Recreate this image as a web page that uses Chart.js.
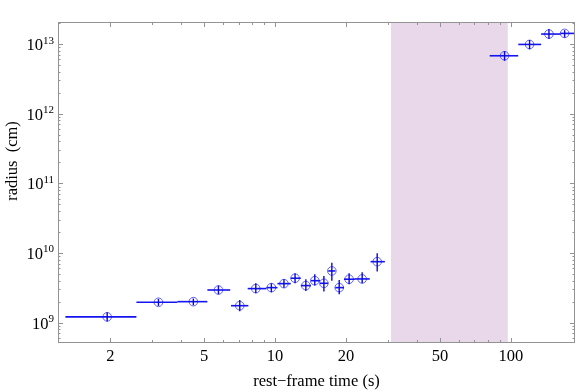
<!DOCTYPE html>
<html>
<head>
<meta charset="utf-8">
<script src="https://cdn.jsdelivr.net/npm/chart.js@4/dist/chart.umd.min.js"></script>
<style>
  html, body { margin: 0; padding: 0; background: #fff; }
  canvas { display: block; }
</style>
</head>
<body>
<canvas id="radiusChart" width="581" height="392"></canvas>
<script>
// rest-frame time bins (s) and radius (cm) with error bars
const time     = [1.94, 3.20, 4.50, 5.75, 7.08, 8.28, 9.64, 10.9, 12.15, 13.5, 14.73, 16.1, 17.4, 18.7, 20.6, 23.4, 27.1, 94.0, 120, 145, 169];
const timeLo   = [1.29, 2.58, 3.85, 5.16, 6.5, 7.65, 9.19, 10.23, 11.65, 12.85, 14.18, 15.5, 16.8, 18.0, 19.6, 21.8, 25.4, 81.3, 107.5, 134.3, 162.4];
const timeHi   = [2.58, 3.85, 5.16, 6.45, 7.7, 9.19, 10.23, 11.65, 12.85, 14.18, 15.5, 16.8, 18.0, 19.6, 21.8, 25.2, 29.2, 107.4, 134.3, 162.4, 188];
const radius   = [1.21e9, 1.96e9, 2.0e9, 2.94e9, 1.75e9, 3.08e9, 3.18e9, 3.63e9, 4.34e9, 3.4e9, 4.0e9, 3.67e9, 5.52e9, 3.18e9, 4.2e9, 4.24e9, 7.5e9, 6.78e12, 9.86e12, 1.39e13, 1.42e13];
const radiusLo = [1.04e9, 1.74e9, 1.78e9, 2.55e9, 1.46e9, 2.64e9, 2.73e9, 3.18e9, 3.67e9, 2.85e9, 3.4e9, 2.79e9, 4.0e9, 2.55e9, 3.56e9, 3.67e9, 5.4e9, 5.74e12, 8.37e12, 1.18e13, 1.24e13];
const radiusHi = [1.41e9, 2.19e9, 2.22e9, 3.4e9, 2.12e9, 3.67e9, 3.67e9, 4.2e9, 5.1e9, 4.2e9, 4.94e9, 4.68e9, 7.26e9, 4.1e9, 5.1e9, 5.28e9, 9.9e9, 7.9e12, 1.14e13, 1.64e13, 1.58e13];

const xTickValues = [2, 5, 10, 20, 50, 100];
const xMinorTicks = [3, 4, 6, 7, 8, 9, 30, 40, 60, 70, 80, 90];
const yTickExponents = [9, 10, 11, 12, 13];
const shadeBand = [31, 97];

const SERIF = "'Liberation Serif', 'DejaVu Serif', serif";
const FRAME = "#939393";

// shaded band behind the data
const bandPlugin = {
  id: "band",
  beforeDatasetsDraw(chart) {
    const { ctx, chartArea: a, scales: { x } } = chart;
    const x0 = x.getPixelForValue(shadeBand[0]);
    const x1 = x.getPixelForValue(shadeBand[1]);
    ctx.save();
    ctx.fillStyle = "#e9d7ea";
    ctx.fillRect(x0, a.top, x1 - x0, a.bottom - a.top);
    ctx.restore();
  }
};

// horizontal and vertical error bars
const errorBarPlugin = {
  id: "errorBars",
  afterDatasetsDraw(chart) {
    const { ctx, chartArea: a, scales: { x, y } } = chart;
    ctx.save();
    ctx.beginPath();
    ctx.rect(a.left, a.top, a.right - a.left, a.bottom - a.top);
    ctx.clip();
    ctx.lineCap = "butt";
    time.forEach((t, i) => {
      const px = x.getPixelForValue(t);
      const py = y.getPixelForValue(radius[i]);
      ctx.strokeStyle = "#1414f0";
      ctx.lineWidth = 1.6;
      ctx.beginPath();
      ctx.moveTo(x.getPixelForValue(timeLo[i]), py);
      ctx.lineTo(x.getPixelForValue(timeHi[i]), py);
      ctx.stroke();
      ctx.strokeStyle = "#0a0ad0";
      ctx.lineWidth = 1.4;
      ctx.beginPath();
      ctx.moveTo(px, y.getPixelForValue(radiusLo[i]));
      ctx.lineTo(px, y.getPixelForValue(radiusHi[i]));
      ctx.stroke();
    });
    ctx.restore();
  }
};

// frame, inward ticks, y tick labels and axis titles
const framePlugin = {
  id: "frame",
  afterDraw(chart) {
    const { ctx, chartArea: a, scales: { x, y } } = chart;
    ctx.save();
    ctx.strokeStyle = FRAME;
    ctx.lineWidth = 1;
    ctx.strokeRect(a.left + 0.5, a.top + 0.5, a.right - a.left - 1, a.bottom - a.top - 1);

    const tick = (x0, y0, x1, y1) => {
      ctx.beginPath(); ctx.moveTo(x0, y0); ctx.lineTo(x1, y1); ctx.stroke();
    };
    xTickValues.forEach(v => {
      const px = Math.round(x.getPixelForValue(v)) + 0.5;
      tick(px, a.bottom, px, a.bottom - 5);
      tick(px, a.top, px, a.top + 5);
    });
    xMinorTicks.forEach(v => {
      const px = Math.round(x.getPixelForValue(v)) + 0.5;
      tick(px, a.bottom, px, a.bottom - 3);
      tick(px, a.top, px, a.top + 3);
    });
    for (let e = 8; e <= 13; e++) {
      for (let m = 1; m <= 9; m++) {
        const v = m * Math.pow(10, e);
        if (v < y.min || v > y.max) continue;
        const py = Math.round(y.getPixelForValue(v)) + 0.5;
        const len = m === 1 ? 5 : 2.5;
        tick(a.left, py, a.left + len, py);
        tick(a.right, py, a.right - len, py);
      }
    }

    ctx.fillStyle = "#000";
    ctx.textBaseline = "alphabetic";
    yTickExponents.forEach(e => {
      const py = y.getPixelForValue(Math.pow(10, e));
      ctx.font = "11px " + SERIF;
      const expText = String(e);
      const expW = ctx.measureText(expText).width;
      ctx.textAlign = "right";
      ctx.fillText(expText, 54, py - 0.5);
      ctx.font = "16.5px " + SERIF;
      ctx.fillText("10", 54 - expW, py + 6);
    });

    ctx.font = "16.5px " + SERIF;
    ctx.textAlign = "center";
    ctx.textBaseline = "middle";
    ctx.fillText("rest\u2212frame time (s)", (a.left + a.right) / 2, 382);
    ctx.translate(13, 161);
    ctx.rotate(-Math.PI / 2);
    ctx.fillText("radius  (cm)", 0, 0);
    ctx.restore();
  }
};

new Chart(document.getElementById("radiusChart"), {
  type: "scatter",
  data: {
    datasets: [{
      data: time.map((t, i) => ({ x: t, y: radius[i] })),
      showLine: false,
      pointStyle: "circle",
      pointRadius: 4.3,
      pointBorderWidth: 1,
      borderColor: "rgba(70,70,255,0.85)",
      backgroundColor: "rgba(0,0,0,0)"
    }]
  },
  options: {
    responsive: false,
    animation: false,
    layout: { padding: { top: 22, right: 6, left: 0, bottom: 0 } },
    plugins: {
      legend: { display: false },
      tooltip: { enabled: false }
    },
    scales: {
      x: {
        type: "logarithmic",
        min: 1.2,
        max: 187,
        grid: { display: false },
        border: { display: false },
        afterBuildTicks: s => { s.ticks = xTickValues.map(v => ({ value: v })); },
        afterFit: s => { s.height = 49; },
        ticks: {
          autoSkip: false,
          maxRotation: 0,
          padding: -4,
          color: "#000",
          font: { family: SERIF, size: 16.5 },
          callback: v => String(v)
        }
      },
      y: {
        type: "logarithmic",
        min: 5.1e8,
        max: 2.07e13,
        grid: { display: false },
        border: { display: false },
        ticks: { display: false },
        afterFit: s => { s.width = 58; }
      }
    }
  },
  plugins: [bandPlugin, errorBarPlugin, framePlugin]
});
</script>
</body>
</html>
